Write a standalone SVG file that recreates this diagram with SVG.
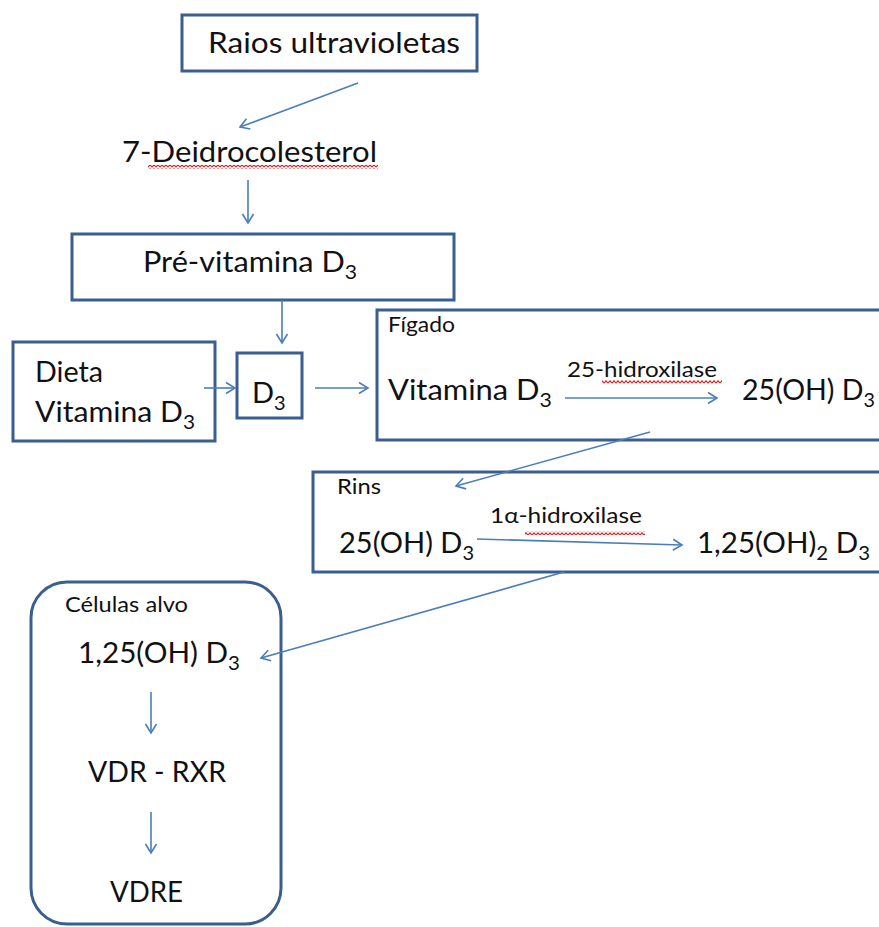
<svg xmlns="http://www.w3.org/2000/svg" width="879" height="927" viewBox="0 0 879 927">
<defs>
<style>
.box{fill:#fff;stroke:#3A5F8E;stroke-width:3}
.t{font-family:Lato,"Liberation Sans",sans-serif;font-size:29px;fill:#111}
.s{font-family:Lato,"Liberation Sans",sans-serif;font-size:21px;fill:#111}
.sub{font-size:20px}
.c{fill:none;stroke:#4A7EBB;stroke-width:1.6;marker-end:url(#ah)}
</style>
<marker id="ah" markerUnits="userSpaceOnUse" markerWidth="14" markerHeight="14" viewBox="-11 -7 13 14" refX="0" refY="0" orient="auto">
<path d="M-9,-5.5 L0,0 L-9,5.5" fill="none" stroke="#4A7EBB" stroke-width="1.6"/>
</marker>
<pattern id="squig" patternUnits="userSpaceOnUse" x="0" y="0" width="4" height="4">
<polyline points="0,3.2 2,0.8 4,3.2" fill="none" stroke="#E02020" stroke-width="1.1"/>
</pattern>
</defs>
<rect width="879" height="927" fill="#fff"/>

<g id="raios">
<rect class="box" x="182" y="15" width="295" height="56"/>
<text class="t" x="208" y="53" textLength="252" lengthAdjust="spacingAndGlyphs">Raios ultravioletas</text>
</g>

<g id="deidro">
<text class="t" x="122" y="162" textLength="255" lengthAdjust="spacingAndGlyphs">7-Deidrocolesterol</text>
<rect x="148" y="165" width="230" height="4" fill="url(#squig)"/>
</g>

<g id="previtamina">
<rect class="box" x="72" y="234" width="382" height="66"/>
<text class="t" x="143" y="272" textLength="214" lengthAdjust="spacingAndGlyphs">Pré-vitamina D<tspan class="sub" dy="7">3</tspan></text>
</g>

<g id="dieta">
<rect class="box" x="13" y="342" width="202" height="99"/>
<text class="t" x="35" y="382" textLength="68" lengthAdjust="spacingAndGlyphs">Dieta</text>
<text class="t" x="35" y="422" textLength="160" lengthAdjust="spacingAndGlyphs">Vitamina D<tspan class="sub" dy="7">3</tspan></text>
</g>

<g id="d3">
<rect class="box" x="237" y="353" width="65" height="65"/>
<text class="t" x="252" y="403">D<tspan class="sub" dy="7">3</tspan></text>
</g>

<g id="figado">
<rect class="box" x="377" y="310" width="510" height="130"/>
<text class="s" x="388" y="332" textLength="67" lengthAdjust="spacingAndGlyphs">Fígado</text>
<text class="t" x="388" y="400" textLength="164" lengthAdjust="spacingAndGlyphs">Vitamina D<tspan class="sub" dy="7">3</tspan></text>
<text class="s" x="567" y="377" textLength="150" lengthAdjust="spacingAndGlyphs">25-hidroxilase</text>
<rect x="602" y="380" width="120" height="4" fill="url(#squig)"/>
<text class="t" x="742" y="400" textLength="133" lengthAdjust="spacingAndGlyphs">25(OH) D<tspan class="sub" dy="7">3</tspan></text>
</g>

<g id="rins">
<rect class="box" x="313" y="472" width="574" height="100"/>
<text class="s" x="337" y="494" textLength="44" lengthAdjust="spacingAndGlyphs">Rins</text>
<text class="s" x="490" y="523" textLength="152" lengthAdjust="spacingAndGlyphs">1α-hidroxilase</text>
<rect x="525" y="531" width="120" height="4" fill="url(#squig)"/>
<text class="t" x="339" y="553" textLength="135" lengthAdjust="spacingAndGlyphs">25(OH) D<tspan class="sub" dy="7">3</tspan></text>
<text class="t" x="697" y="553" textLength="173" lengthAdjust="spacingAndGlyphs">1,25(OH)<tspan class="sub" dy="7">2</tspan><tspan dy="-7"> D</tspan><tspan class="sub" dy="7">3</tspan></text>
</g>

<g id="celulas">
<rect class="box" x="31" y="582" width="250" height="342" rx="36" ry="36"/>
<text class="s" x="65" y="612" textLength="123" lengthAdjust="spacingAndGlyphs">Células alvo</text>
<text class="t" x="78" y="663" textLength="162" lengthAdjust="spacingAndGlyphs">1,25(OH) D<tspan class="sub" dy="7">3</tspan></text>
<text class="t" x="88" y="782" textLength="138" lengthAdjust="spacingAndGlyphs">VDR - RXR</text>
<text class="t" x="110" y="902" textLength="73" lengthAdjust="spacingAndGlyphs">VDRE</text>
</g>

<g id="connectors">
<line class="c" x1="358" y1="83" x2="240" y2="127"/>
<line class="c" x1="248" y1="180" x2="248" y2="223"/>
<line class="c" x1="282" y1="300" x2="282" y2="343"/>
<line class="c" x1="204" y1="388" x2="235" y2="388"/>
<line class="c" x1="315" y1="388" x2="368" y2="388"/>
<line class="c" x1="565" y1="398" x2="717" y2="398"/>
<line class="c" x1="650" y1="432" x2="456" y2="486"/>
<line class="c" x1="477" y1="539" x2="682" y2="545"/>
<line class="c" x1="564" y1="572" x2="261" y2="658"/>
<line class="c" x1="151" y1="692" x2="151" y2="733"/>
<line class="c" x1="151" y1="812" x2="151" y2="853"/>
</g>
</svg>
